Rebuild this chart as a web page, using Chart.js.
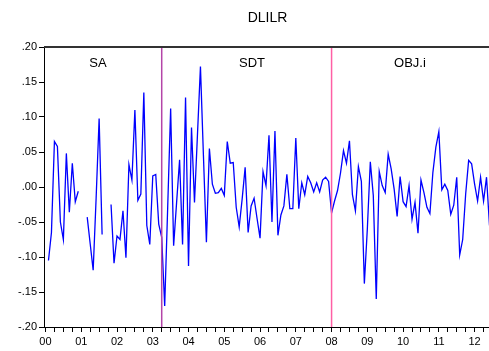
<!DOCTYPE html>
<html>
<head>
<meta charset="utf-8">
<script src="https://cdn.jsdelivr.net/npm/chart.js@4/dist/chart.umd.min.js"></script>
<style>
  html, body { margin: 0; padding: 0; background: #ffffff; }
  #wrap { width: 489px; height: 351px; overflow: hidden; }
  #c { display: block; }
</style>
</head>
<body>
<div id="wrap"><canvas id="c" width="494" height="351"></canvas></div>
<script>
// Monthly observations 2000M01 .. 2012M06
const startYear = 2000;
const months = [];
for (let k = 0; k < 150; k++) {
  const y = startYear + Math.floor(k / 12);
  const m = (k % 12) + 1;
  months.push(y + 'M' + String(m).padStart(2, '0'));
}

// DLILR: monthly log-difference of the lending rate (null = no observation)
const dlilr = [
  null, -0.105, -0.065, 0.065, 0.058, -0.050, -0.075, 0.048, -0.036, 0.034, -0.021, -0.006,
  null, null, -0.043, -0.081, -0.119, -0.015, 0.098, -0.068, null, null, -0.025, -0.109,
  -0.070, -0.075, -0.034, -0.101, 0.032, 0.010, 0.110, -0.019, -0.010, 0.135, -0.055, -0.082,
  0.016, 0.018, -0.053, -0.072, -0.170, -0.030, 0.112, -0.084, -0.022, 0.039, -0.082, 0.128,
  -0.113, 0.085, -0.022, 0.075, 0.172, 0.045, -0.079, 0.055, 0.004, -0.009, -0.008, -0.002,
  -0.012, 0.065, 0.034, 0.035, -0.029, -0.057, -0.017, 0.028, -0.065, -0.027, -0.016, -0.045,
  -0.073, 0.022, 0.002, 0.074, -0.050, 0.080, -0.069, -0.040, -0.027, 0.018, -0.031, -0.031,
  0.070, -0.031, 0.006, -0.011, 0.015, 0.006, -0.007, 0.006, -0.007, 0.010, 0.014, 0.008,
  -0.037, -0.020, -0.005, 0.020, 0.052, 0.034, 0.066, -0.011, -0.034, 0.029, 0.008, -0.138,
  -0.060, 0.036, -0.012, -0.160, 0.022, 0.002, -0.008, 0.047, 0.026, -0.003, -0.042, 0.015,
  -0.021, -0.028, 0.002, -0.046, -0.022, -0.066, 0.010, -0.008, -0.029, -0.038, 0.021, 0.057,
  0.079, -0.004, 0.004, -0.005, -0.039, -0.026, 0.014, -0.097, -0.075, -0.010, 0.038, 0.033,
  0.004, -0.020, 0.014, -0.020, 0.014, -0.055
];

const yearLabels = ['00','01','02','03','04','05','06','07','08','09','10','11','12'];

// Monetary-policy regimes and the months where they change
const regimeNames = ['SA', 'SDT', 'OBJ.i'];
const regimeBreaks = ['2003M04', '2008M01'];

const chartTitle = 'DLILR';
const FONT = '"Liberation Sans", Arial, Helvetica, sans-serif';

const points = dlilr.map((v, k) => ({ x: k, y: v }));

const regimePlugin = {
  id: 'regimes',
  afterDatasetsDraw(chart, args, opts) {
    const { ctx, chartArea: a, scales: { x } } = chart;
    ctx.save();
    // break lines
    regimeBreaks.forEach((lab, j) => {
      const px = x.getPixelForValue(months.indexOf(lab));
      ctx.strokeStyle = opts.breakColors[j];
      ctx.lineWidth = 1.5;
      ctx.beginPath();
      ctx.moveTo(px, a.top);
      ctx.lineTo(px, a.bottom);
      ctx.stroke();
    });
    // regime names
    ctx.fillStyle = '#000';
    ctx.font = '13px ' + FONT;
    ctx.textAlign = 'center';
    ctx.textBaseline = 'middle';
    regimeNames.forEach((name, j) => {
      ctx.fillText(name, x.getPixelForValue(opts.labelAt[j]), a.top + 16);
    });
    // frame top edge
    ctx.strokeStyle = '#333';
    ctx.lineWidth = 2;
    ctx.beginPath();
    ctx.moveTo(a.left, a.top);
    ctx.lineTo(a.right + 3, a.top);
    ctx.stroke();
    // title
    ctx.font = '14px ' + FONT;
    ctx.fillText(chartTitle, (a.left + a.right) / 2, 18);
    ctx.restore();
  }
};

new Chart(document.getElementById('c'), {
  type: 'line',
  data: {
    datasets: [{
      label: chartTitle,
      data: points,
      borderColor: '#0000ff',
      borderWidth: 1.3,
      pointRadius: 0,
      tension: 0,
      spanGaps: false,
      fill: false
    }]
  },
  options: {
    responsive: false,
    devicePixelRatio: 1,
    animation: false,
    layout: { padding: { top: 47, right: 3, bottom: 0, left: 0 } },
    plugins: {
      legend: { display: false },
      title: { display: false },
      tooltip: { enabled: false },
      regimes: {
        breakColors: ['#b444a8', '#ff5fa5'],
        labelAt: [17.6, 69.3, 122.3]
      }
    },
    scales: {
      x: {
        type: 'linear',
        min: -0.5,
        max: 149.5,
        afterFit(s) { s.height = 24; },
        afterBuildTicks(s) {
          const t = [];
          for (let k = 0; k < months.length; k += 3) t.push({ value: k });
          s.ticks = t;
        },
        grid: { drawOnChartArea: false, drawTicks: true, tickLength: 5, color: '#000', lineWidth: 1 },
        border: { display: true, color: '#000', width: 1 },
        ticks: {
          autoSkip: false,
          maxRotation: 0,
          padding: 3,
          color: '#000',
          font: { family: FONT, size: 11 },
          callback(v) { return v % 12 === 0 ? yearLabels[v / 12] : ''; }
        }
      },
      y: {
        min: -0.2,
        max: 0.2,
        afterFit(s) { s.width = 44; },
        grid: { drawOnChartArea: false, drawTicks: true, tickLength: 5, color: '#000', lineWidth: 1 },
        border: { display: true, color: '#000', width: 1 },
        ticks: {
          stepSize: 0.05,
          padding: 2,
          color: '#000',
          font: { family: FONT, size: 11 },
          callback(v) { return v.toFixed(2).replace(/^(-?)0\./, '$1.'); }
        }
      }
    }
  },
  plugins: [regimePlugin]
});
</script>
</body>
</html>
